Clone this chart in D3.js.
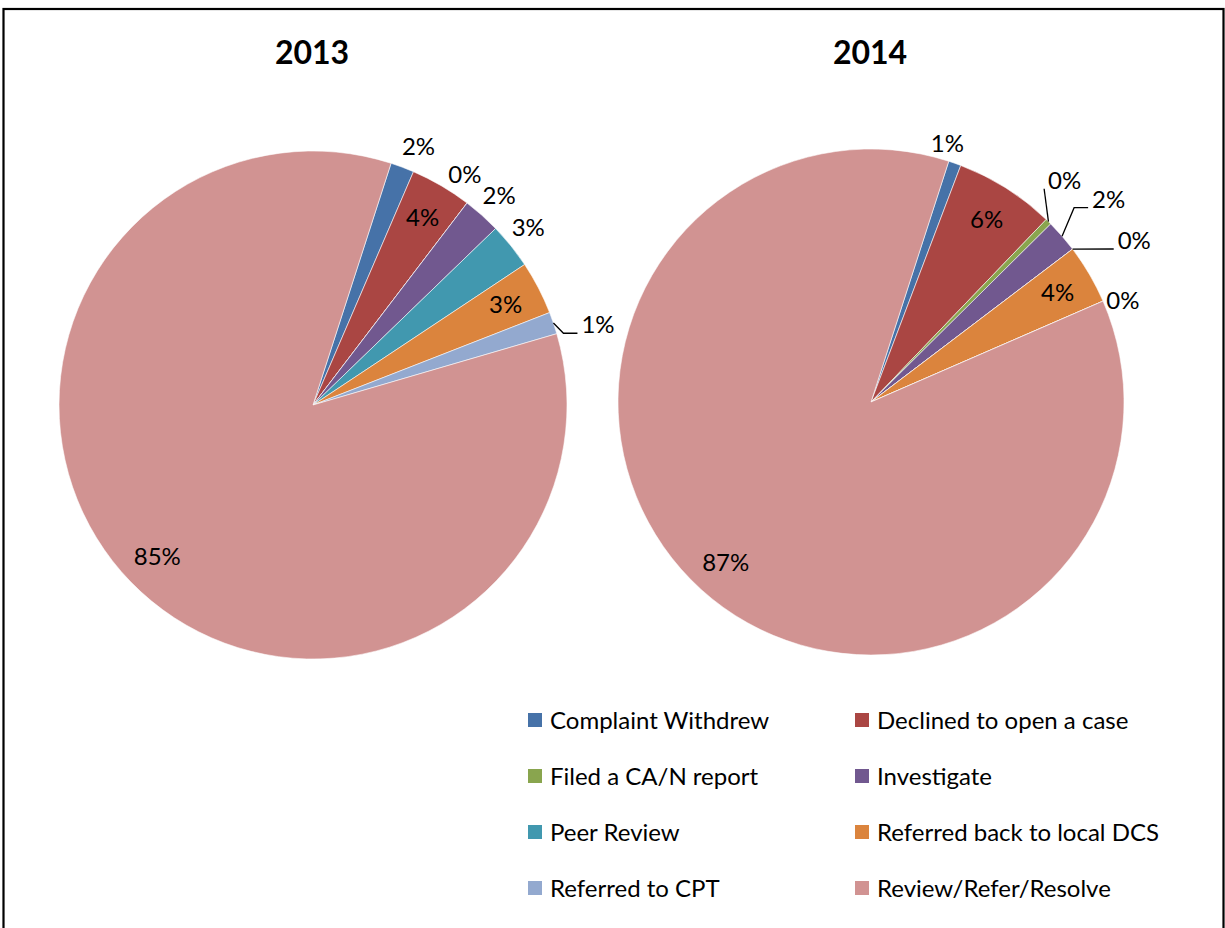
<!DOCTYPE html>
<html>
<head>
<meta charset="utf-8">
<script src="https://cdn.jsdelivr.net/npm/d3@7"></script>
<style>
  body { margin: 0; background: #fff; }
  text { font-family: Lato, Carlito, Calibri, sans-serif; fill: #000; }
</style>
</head>
<body>
<div id="chart"></div>
<script>
// data
var categories = ["Complaint Withdrew", "Declined to open a case", "Filed a CA/N report", "Investigate",
                  "Peer Review", "Referred back to local DCS", "Referred to CPT", "Review/Refer/Resolve"];
var years = ["2013", "2014"];
var values2013 = [1.5, 3.9, 0, 2.4, 2.9, 3.4, 1.4, 84.5];
var values2014 = [0.8, 6.4, 0.4, 2.1, 0, 3.8, 0, 86.5];

var colors = ["#4672a8", "#aa4643", "#89a54e", "#71588f", "#4198af", "#db843d", "#93a9cf", "#d19392"];

// label placement: in = inside the slice, out = outside, elbow/straight = outside with a leader line
var layout2013 = [
  {mode: "out", nudge: [7, 3]},
  {mode: "in"},
  {mode: "out", nudge: [-18, -8]},
  {mode: "out"},
  {mode: "out", nudge: [-3, -2]},
  {mode: "in"},
  {mode: "elbow", nudge: [20, 10]},
  {mode: "in"}
];
var layout2014 = [
  {mode: "out", nudge: [-16, 5]},
  {mode: "in"},
  {mode: "straight", nudge: [-2, -23]},
  {mode: "elbow", nudge: [27, -20]},
  {mode: "straight", nudge: [41, 7]},
  {mode: "in"},
  {mode: "out", nudge: [-4, 10]},
  {mode: "in"}
];

var width = 1225, height = 928;
var fontSize = 24;
var rotation = 17.9 * Math.PI / 180;

var svg = d3.select("#chart")
  .append("svg")
  .attr("width", width)
  .attr("height", height);

svg.append("rect")
  .attr("width", width)
  .attr("height", height)
  .attr("fill", "#fff");

// frame around the chart area
svg.append("rect")
  .attr("x", 3.5)
  .attr("y", 9)
  .attr("width", 1220)
  .attr("height", 960)
  .attr("fill", "none")
  .attr("stroke", "#000")
  .attr("stroke-width", 2.2);

var color = d3.scaleOrdinal()
  .domain(categories)
  .range(colors);

var pies = [
  {year: years[0], values: values2013, layout: layout2013, cx: 313, cy: 405, r: 254},
  {year: years[1], values: values2014, layout: layout2014, cx: 871, cy: 402, r: 253}
];

var pie = d3.pie()
  .sort(null)
  .value(function(d) { return d; })
  .startAngle(rotation)
  .endAngle(rotation + 2 * Math.PI);

pies.forEach(function(p) {
  var g = svg.append("g")
    .attr("transform", "translate(" + p.cx + "," + p.cy + ")");

  var arc = d3.arc().innerRadius(0).outerRadius(p.r);
  var arcs = pie(p.values);

  g.selectAll("path.slice")
    .data(arcs)
    .enter()
    .append("path")
      .attr("class", "slice")
      .attr("d", arc)
      .attr("fill", function(d, i) { return color(categories[i]); })
      .attr("stroke", "#fff")
      .attr("stroke-opacity", 0.7)
      .attr("stroke-width", 0.8);

  // title
  svg.append("text")
    .attr("x", p.cx - 1)
    .attr("y", 64)
    .attr("text-anchor", "middle")
    .style("font-size", "32px")
    .style("font-weight", "bold")
    .text(p.year);

  // percentage labels
  arcs.forEach(function(d, i) {
    var lay = p.layout[i];
    var mid = (d.startAngle + d.endAngle) / 2;
    var rr = lay.mode == "in" ? p.r * 0.855 : p.r + 26;
    var nudge = lay.nudge || [0, 0];
    var x = Math.sin(mid) * rr + nudge[0];
    var y = -Math.cos(mid) * rr + nudge[1];

    var t = g.append("text")
      .attr("x", x)
      .attr("y", y + fontSize * 0.358)
      .attr("text-anchor", "middle")
      .style("font-size", fontSize + "px")
      .text(Math.round(p.values[i]) + "%");

    if (lay.mode == "elbow" || lay.mode == "straight") {
      var w = t.node().getComputedTextLength();
      var left = x - w / 2, bottom = y + fontSize * 0.358;
      var pts = [[Math.sin(mid) * p.r, -Math.cos(mid) * p.r]];
      if (lay.mode == "elbow") pts.push([left - 18, bottom]);
      pts.push([left - 4, bottom]);
      g.append("path")
        .attr("d", d3.line()(pts))
        .attr("fill", "none")
        .attr("stroke", "#000")
        .attr("stroke-width", 1.3);
    }
  });
});

// legend, two columns
var legendX = [528, 855];
var legendY = 720, legendStep = 56;

var legend = svg.selectAll("g.legend")
  .data(categories)
  .enter()
  .append("g")
    .attr("class", "legend")
    .attr("transform", function(d, i) {
      return "translate(" + legendX[i % 2] + "," + (legendY + Math.floor(i / 2) * legendStep) + ")";
    });

legend.append("rect")
  .attr("x", 0)
  .attr("y", -7)
  .attr("width", 14)
  .attr("height", 14)
  .attr("fill", function(d) { return color(d); });

legend.append("text")
  .attr("x", 22)
  .attr("y", fontSize * 0.358)
  .style("font-size", fontSize + "px")
  .text(function(d) { return d; });
</script>
</body>
</html>
